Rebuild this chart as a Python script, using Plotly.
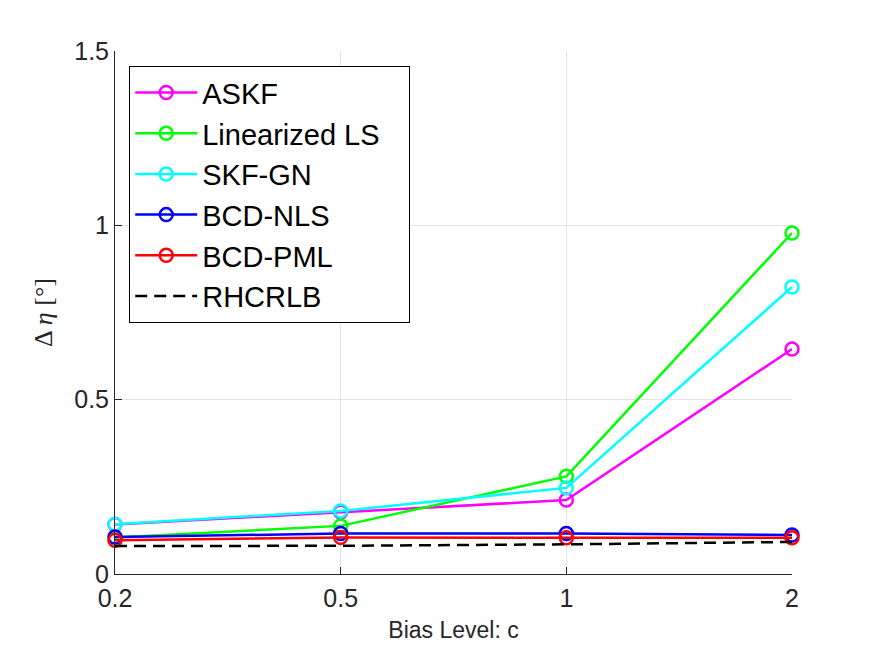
import plotly.graph_objects as go

# bias levels shown on the x axis (equally spaced positions)
bias_labels = ["0.2", "0.5", "1", "2"]
bias_pos = [1, 2, 3, 4]

askf = [0.142, 0.178, 0.212, 0.645]
linearized_ls = [0.105, 0.138, 0.280, 0.978]
skf_gn = [0.143, 0.181, 0.247, 0.823]
bcd_nls = [0.106, 0.116, 0.116, 0.112]
bcd_pml = [0.097, 0.105, 0.104, 0.104]
rhcrlb = [0.080, 0.081, 0.085, 0.092]

# trailing non-breaking spaces just widen the legend box a bit
series = [
    ("ASKF", askf, "#ff00ff"),
    ("Linearized LS\u00a0\u00a0\u00a0", linearized_ls, "#00ff00"),
    ("SKF-GN", skf_gn, "#00ffff"),
    ("BCD-NLS", bcd_nls, "#0000ff"),
    ("BCD-PML", bcd_pml, "#ff0000"),
]

fig = go.Figure()
for name, vals, col in series:
    fig.add_trace(go.Scatter(
        x=bias_pos, y=vals, name=name, mode="lines+markers",
        line=dict(color=col, width=2.5),
        marker=dict(symbol="circle-open", size=13, color=col, line=dict(width=2.5)),
        cliponaxis=False,
    ))

fig.add_trace(go.Scatter(
    x=bias_pos, y=rhcrlb, name="RHCRLB", mode="lines",
    line=dict(color="black", width=2.5, dash="12px,7px"),
    cliponaxis=False,
))

sans = "Liberation Sans, Arial, sans-serif"
tick_font = dict(family=sans, size=25, color="#262626")

# the page body adds an 8px offset, margins are set to compensate
fig.update_layout(
    width=875, height=656,
    margin=dict(l=107, r=91, t=43, b=90),
    paper_bgcolor="white", plot_bgcolor="white",
    font=tick_font,
    showlegend=True,
    legend=dict(
        x=0.021, y=0.971, xanchor="left", yanchor="top",
        bgcolor="white", bordercolor="black", borderwidth=1,
        font=dict(family=sans, size=29, color="black"),
        tracegroupgap=0, itemwidth=62,
    ),
)

fig.update_xaxes(
    range=[1, 4], tickvals=bias_pos, ticktext=bias_labels,
    showline=True, linecolor="#262626", linewidth=1, mirror=False,
    ticks="inside", ticklen=7, tickcolor="#262626", tickfont=tick_font,
    showgrid=True, gridcolor="#e3e3e3", gridwidth=1, zeroline=False,
    ticklabelstandoff=2,
    title=dict(text="Bias Level: c", standoff=10,
               font=dict(family=sans, size=23, color="#262626")),
)
fig.update_yaxes(
    range=[0, 1.5], tickvals=[0, 0.5, 1, 1.5], ticktext=["0", "0.5", "1", "1.5"],
    showline=True, linecolor="#262626", linewidth=1, mirror=False,
    ticks="inside", ticklen=7, tickcolor="#262626", tickfont=tick_font,
    showgrid=True, gridcolor="#e3e3e3", gridwidth=1, zeroline=False,
    title=dict(text="Δ <i>η</i> [°]", standoff=14,
               font=dict(family="Liberation Serif, serif", size=26, color="#262626")),
)

fig.write_html("out.html")
